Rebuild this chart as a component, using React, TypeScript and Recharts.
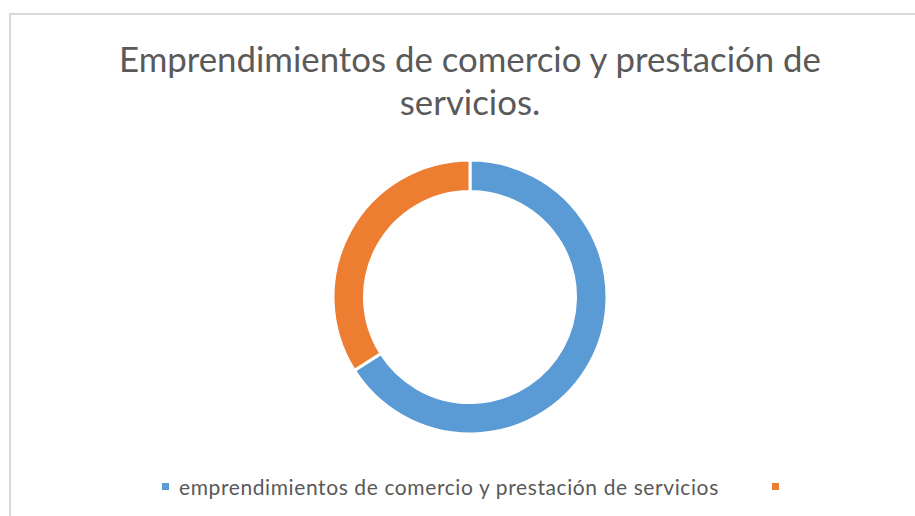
import React from "react";
import { PieChart, Pie, Cell } from "recharts";

const categories = ["emprendimientos de comercio y prestación de servicios", ""];
const values = [66, 34];
const colors = ["#5B9BD5", "#ED7D31"];
const titleLines = ["Emprendimientos de comercio y prestación de", "servicios."];

const data = categories.map((name, i) => ({ name, value: values[i] }));

const FONT = "Lato, 'Open Sans', sans-serif";

export default function App() {
  return (
    <div style={{ position: "absolute", left: 0, top: 0, width: 915, height: 516, background: "#fff", overflow: "hidden" }}>
      <div style={{ position: "absolute", left: 9, top: 13, width: 920, height: 520, border: "2px solid #D9D9D9", boxSizing: "border-box" }} />
      <div
        style={{
          position: "absolute",
          left: 70,
          top: 37,
          width: 800,
          textAlign: "center",
          fontFamily: FONT,
          fontSize: 34.8,
          lineHeight: "43px",
          color: "#5A5A5A",
          fontWeight: 400,
        }}
      >
        {titleLines.map((t, i) => (
          <div key={i}>{t}</div>
        ))}
      </div>
      <PieChart width={915} height={516} margin={{ top: 0, right: 0, bottom: 0, left: 0 }} style={{ position: "absolute", left: 0, top: 0 }}>
        <Pie
          data={data}
          dataKey="value"
          nameKey="name"
          cx={470}
          cy={297}
          innerRadius={105.5}
          outerRadius={137}
          startAngle={90}
          endAngle={-270}
          stroke="#FFFFFF"
          strokeWidth={3}
          isAnimationActive={false}
        >
          {data.map((d, i) => (
            <Cell key={i} fill={colors[i]} />
          ))}
        </Pie>
      </PieChart>
      <div
        style={{
          position: "absolute",
          left: 162,
          top: 473,
          display: "flex",
          alignItems: "center",
          fontFamily: FONT,
          height: 26,
        }}
      >
        {categories.map((c, i) => (
          <div key={i} style={{ display: "flex", alignItems: "center", marginRight: 53 }}>
            <span style={{ display: "inline-block", width: 7, height: 7, background: colors[i], marginRight: 10 }} />
            <span style={{ fontSize: 21, letterSpacing: 0.6, color: "#595959", whiteSpace: "pre" }}>{c}</span>
          </div>
        ))}
      </div>
    </div>
  );
}
